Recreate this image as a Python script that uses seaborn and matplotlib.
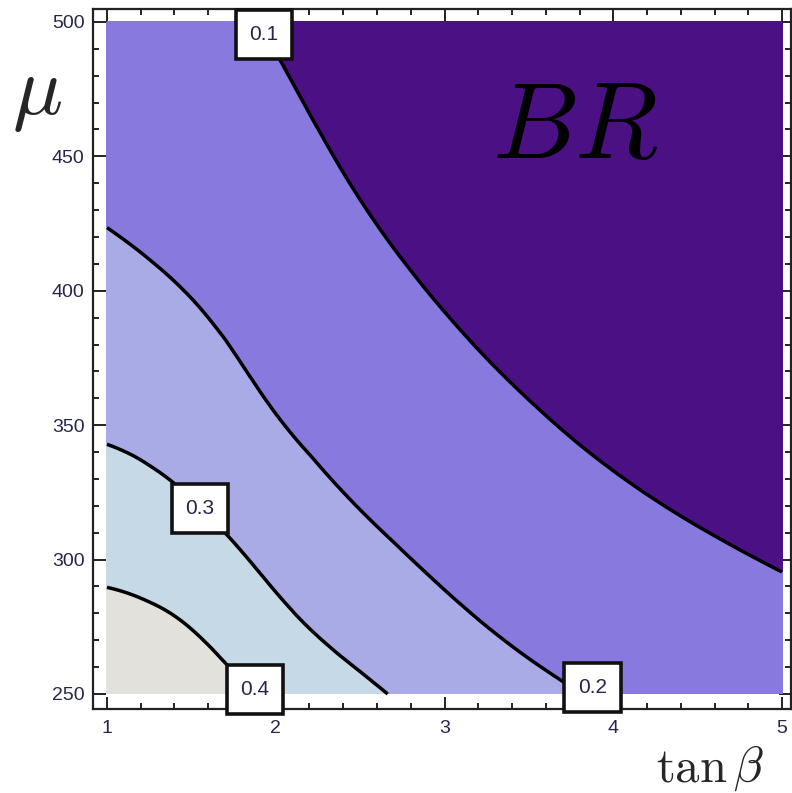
import numpy as np
import matplotlib
matplotlib.use("Agg")
import matplotlib.pyplot as plt
import matplotlib.tri as mtri
from matplotlib.path import Path
from matplotlib.ticker import MultipleLocator
import seaborn as sns

# ---------------- data ----------------
tan_beta = [1.0, 1.5, 2.0, 2.5, 3.0, 3.5, 4.0, 4.5, 5.0]
mu = [250, 275, 300, 325, 350, 375, 400, 425, 450, 475, 500]

# BR along mu (250 -> 500) for each tan(beta) column
br_tb10 = [0.495, 0.433, 0.378, 0.330, 0.289, 0.255, 0.225, 0.1985, 0.1757, 0.1554, 0.1375]
br_tb15 = [0.461, 0.398, 0.343, 0.296, 0.258, 0.2256, 0.197, 0.173, 0.152, 0.133, 0.117]
br_tb20 = [0.377, 0.324, 0.279, 0.239, 0.205, 0.179, 0.158, 0.1386, 0.1219, 0.1072, 0.0944]
br_tb25 = [0.317, 0.268, 0.226, 0.192, 0.165, 0.1423, 0.1226, 0.1055, 0.0908, 0.0782, 0.0673]
br_tb30 = [0.264, 0.2205, 0.185, 0.1566, 0.1325, 0.1121, 0.0949, 0.0803, 0.0679, 0.0575, 0.0487]
br_tb35 = [0.2205, 0.1834, 0.1532, 0.1281, 0.1070, 0.0894, 0.0748, 0.0625, 0.0522, 0.0436, 0.0364]
br_tb40 = [0.1894, 0.1563, 0.1289, 0.1064, 0.0877, 0.0724, 0.0597, 0.0492, 0.0406, 0.0335, 0.0276]
br_tb45 = [0.1640, 0.1345, 0.1104, 0.0905, 0.0743, 0.0609, 0.0500, 0.0410, 0.0336, 0.0276, 0.0226]
br_tb50 = [0.1446, 0.1180, 0.0963, 0.0786, 0.0642, 0.0525, 0.0428, 0.0349, 0.0285, 0.0233, 0.0190]

levels = [0.1, 0.2, 0.3, 0.4]
x_ticks = [1, 2, 3, 4, 5]
y_ticks = [250, 300, 350, 400, 450, 500]

# ---------------- style ----------------
sns.set_theme(style="ticks")
plt.rcParams["font.family"] = ["Liberation Sans", "DejaVu Sans"]
plt.rcParams["mathtext.fontset"] = "cm"
plt.rcParams["contour.negative_linestyle"] = "solid"

fill_colors = ["#4a1084", "#8779de", "#a9abe6", "#c6d9e6", "#e2e1dc"]
text_col = "#26264a"

fig = plt.figure(figsize=(7.92, 7.93), dpi=100)
ax = fig.add_axes([0.1174, 0.1059, 0.8813, 0.8827])
ax.set_facecolor("white")

# ---------------- field (smoothed by the library's cubic refiner) ----------------
Z = np.column_stack([br_tb10, br_tb15, br_tb20, br_tb25, br_tb30,
                     br_tb35, br_tb40, br_tb45, br_tb50])
nx, ny = len(tan_beta), len(mu)
I, J = np.meshgrid(np.arange(nx, dtype=float), np.arange(ny, dtype=float))
tris = []
for j in range(ny - 1):
    for i in range(nx - 1):
        a = j * nx + i
        b = a + 1
        c = a + nx
        d = c + 1
        tris += [[a, b, d], [a, d, c]]
tri_idx = mtri.Triangulation(I.ravel(), J.ravel(), np.array(tris))
refiner = mtri.UniformTriRefiner(tri_idx)
tri_f, lz_f = refiner.refine_field(np.log(Z.ravel()), subdiv=4)
x_f = np.interp(tri_f.x, np.arange(nx), tan_beta)
y_f = np.interp(tri_f.y, np.arange(ny), mu)
tri_d = mtri.Triangulation(x_f, y_f, tri_f.triangles)

log_levels = list(np.log(levels))
bounds = [-10.0] + log_levels + [2.0]
ax.tricontourf(tri_d, lz_f, levels=bounds, colors=fill_colors)
ax.tricontour(tri_d, lz_f, levels=log_levels, colors="black",
              linewidths=2.5, linestyles="solid")

# ---------------- axes ----------------
ax.set_xlim(0.917, 5.053)
ax.set_ylim(244.4, 504.8)
ax.set_xticks(x_ticks)
ax.set_yticks(y_ticks)
ax.xaxis.set_minor_locator(MultipleLocator(0.2))
ax.yaxis.set_minor_locator(MultipleLocator(10))
ax.tick_params(which="both", direction="in", top=True, right=True,
               color="#222222", width=1.4)
ax.tick_params(which="major", length=9)
ax.tick_params(which="minor", length=4.5)
ax.tick_params(axis="x", which="major", labelsize=14, labelcolor=text_col, pad=8)
ax.tick_params(axis="y", which="major", labelsize=14, labelcolor=text_col, pad=6)
for s in ax.spines.values():
    s.set_linewidth(1.6)
    s.set_color("#222222")


def label_box(x0, y0, width, height, mutation_size):
    cx, cy = x0 + width / 2, y0 + height / 2
    hw, hh = 1.36 * mutation_size, 1.18 * mutation_size
    return Path([(cx - hw, cy - hh), (cx + hw, cy - hh), (cx + hw, cy + hh),
                 (cx - hw, cy + hh), (cx - hw, cy - hh)], closed=True)


# contour labels (boxed)
label_pos = {0.1: (1.930, 495.2), 0.2: (3.877, 252.4),
             0.3: (1.551, 319.0), 0.4: (1.877, 251.7)}
for lev in levels:
    x, y = label_pos[lev]
    ax.text(x, y, f"{lev:.1f}", ha="center", va="center", fontsize=15,
            color=text_col, clip_on=False, zorder=5,
            bbox=dict(boxstyle=label_box, facecolor="white",
                      edgecolor="#111111", linewidth=2.6))

ax.text(3.773, 459.8, r"$BR$", fontsize=78, ha="center", va="center",
        color="black", zorder=6)

fig.text(0.047, 0.880, r"$\mu$", fontsize=60, ha="center", va="center")
fig.text(0.896, 0.031, r"$\tan\beta$", fontsize=35, ha="center", va="center")

fig.savefig("out.png", dpi=100)
